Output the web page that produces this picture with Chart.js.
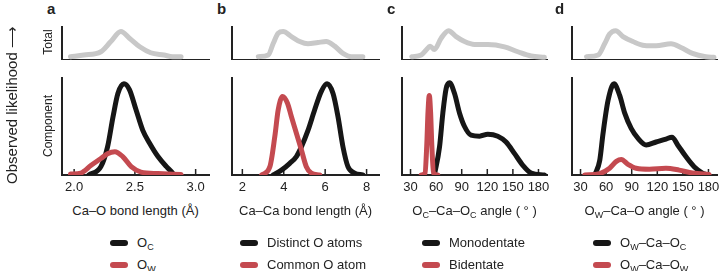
<!DOCTYPE html>
<html>
<head>
<meta charset="utf-8">
<script src="https://cdn.jsdelivr.net/npm/chart.js@4.4.1/dist/chart.umd.min.js"></script>
<style>
  body { margin: 0; width: 720px; height: 271px; position: relative; overflow: hidden; background: #fff;
         font-family: "Liberation Sans", Arial, Helvetica, sans-serif; color: #222; }
  canvas { position: absolute; }
  .abs { position: absolute; white-space: nowrap; }
  .rot { transform: translate(-50%, -50%) rotate(-90deg); }
  .panel { font-weight: bold; font-size: 15px; line-height: 16px; }
  .xtitle { font-size: 13px; line-height: 16px; text-align: center; }
  .legend { font-size: 13px; }
  .legend .item { height: 22px; line-height: 22px; }
  .swatch { display: inline-block; width: 18px; height: 6px; border-radius: 3px; margin-right: 9px; vertical-align: middle; position: relative; top: -1px; }
  .s { font-size: 9px; position: relative; top: 3px; }
</style>
</head>
<body>
<script>
// colours
const BLACK = '#161616';
const RED = '#c44a50';
const GREY = '#c8c8c8';

// ---- panel a : Ca–O bond length ----
const aTicks = [2.0, 2.5, 3.0];
const aTickLabels = ['2.0', '2.5', '3.0'];
const aTotal = [[1.97,0.10],[2.08,0.15],[2.22,0.25],[2.30,0.55],[2.385,0.86],[2.455,0.66],[2.54,0.40],[2.63,0.22],[2.74,0.15],[2.81,0.10],[2.88,0.10]];
const aOc = [[2.12,0],[2.22,0.086],[2.275,0.29],[2.32,0.60],[2.36,0.84],[2.41,0.94],[2.455,0.88],[2.51,0.67],[2.565,0.46],[2.62,0.33],[2.69,0.19],[2.76,0.086],[2.81,0.02],[2.82,0]];
const aOw = [[1.97,0.01],[2.055,0.02],[2.14,0.10],[2.22,0.17],[2.275,0.22],[2.335,0.24],[2.40,0.19],[2.47,0.086],[2.55,0.03],[2.69,0.015],[2.88,0.005]];

// ---- panel b : Ca–Ca bond length ----
const bTicks = [2, 4, 6, 8];
const bTickLabels = ['2', '4', '6', '8'];
const bTotal = [[2.77,0.10],[3.25,0.15],[3.49,0.50],[3.73,0.81],[3.97,0.86],[4.37,0.71],[4.77,0.56],[5.17,0.49],[5.65,0.53],[6.05,0.56],[6.46,0.42],[6.86,0.20],[7.26,0.10],[7.82,0.10]];
const bDistinct = [[3.49,0],[3.89,0.05],[4.29,0.12],[4.61,0.19],[4.85,0.29],[5.17,0.46],[5.49,0.67],[5.81,0.86],[6.09,0.94],[6.38,0.84],[6.62,0.60],[6.86,0.29],[7.10,0.086],[7.42,0.02],[7.82,0]];
const bCommon = [[2.93,0],[3.33,0.086],[3.57,0.40],[3.73,0.67],[3.94,0.81],[4.18,0.74],[4.37,0.60],[4.61,0.43],[4.85,0.26],[5.09,0.086],[5.33,0.02],[5.74,0]];

// ---- panel c : Oc–Ca–Oc angle ----
const cTicks = [30, 60, 90, 120, 150, 180];
const cTickLabels = ['30', '60', '90', '120', '150', '180'];
const cTotal = [[31.5,0.10],[42.5,0.15],[48.3,0.30],[53,0.42],[58,0.32],[65.9,0.66],[74.5,0.89],[83.5,0.71],[93.3,0.56],[105,0.47],[120.6,0.47],[140.2,0.40],[155.8,0.25],[171.4,0.12],[187,0.08]];
const cMono = [[58,0],[64,0.29],[67.9,0.64],[71.7,0.89],[75.7,0.95],[81.6,0.84],[87.4,0.64],[93.3,0.50],[101,0.41],[110.9,0.40],[120.6,0.42],[132.3,0.40],[142,0.34],[152,0.22],[161.7,0.10],[171.4,0.02],[187,0]];
const cBi = [[42.5,0],[47,0.02],[49,0.30],[50.5,0.65],[52,0.82],[53.5,0.65],[55,0.30],[57,0.02],[62,0]];

// ---- panel d : Ow–Ca–O angle ----
const dTicks = [30, 60, 90, 120, 150, 180];
const dTickLabels = ['30', '60', '90', '120', '150', '180'];
const dTotal = [[37,0.10],[50.6,0.15],[58.4,0.50],[64.2,0.79],[71.2,0.89],[79.8,0.71],[91.4,0.56],[105,0.44],[118.6,0.43],[136.1,0.49],[147.7,0.38],[161.3,0.20],[176.8,0.10],[186.5,0.08]];
const dOwOc = [[46.7,0],[52.5,0.15],[56.4,0.43],[62.3,0.77],[69.3,0.94],[75.9,0.82],[81.7,0.64],[89.4,0.48],[97.2,0.38],[106.9,0.31],[118.6,0.34],[130.2,0.37],[137.2,0.39],[143.9,0.31],[153.5,0.19],[163.2,0.086],[173,0.02],[178.8,0]];
const dOwOw = [[35,0],[52.5,0.015],[64.1,0.07],[72,0.14],[77.8,0.16],[85.6,0.11],[95.3,0.07],[110.8,0.06],[130.2,0.07],[145.7,0.05],[161.3,0.02],[180.7,0.005]];

const panels = [
  { tag: 'a', left: 62,  width: 147, xMin: 1.9, xMax: 3.11, ticks: aTicks, labels: aTickLabels, total: aTotal,
    comp: [[aOw, RED], [aOc, BLACK]], title: 'Ca–O bond length (Å)',
    legend: [[BLACK, 'O<span class="s">C</span>'], [RED, 'O<span class="s">W</span>']], legendX: 110 },
  { tag: 'b', left: 232, width: 147, xMin: 1.5, xMax: 8.6, ticks: bTicks, labels: bTickLabels, total: bTotal,
    comp: [[bCommon, RED], [bDistinct, BLACK]], title: 'Ca–Ca bond length (Å)',
    legend: [[BLACK, 'Distinct O atoms'], [RED, 'Common O atom']], legendX: 240 },
  { tag: 'c', left: 402, width: 145, xMin: 20, xMax: 190, ticks: cTicks, labels: cTickLabels, total: cTotal,
    comp: [[cBi, RED], [cMono, BLACK]], title: 'O<span class="s">C</span>–Ca–O<span class="s">C</span> angle ( ° )',
    legend: [[BLACK, 'Monodentate'], [RED, 'Bidentate']], legendX: 422 },
  { tag: 'd', left: 572, width: 145, xMin: 20, xMax: 190, ticks: dTicks, labels: dTickLabels, total: dTotal,
    comp: [[dOwOw, RED], [dOwOc, BLACK]], title: 'O<span class="s">W</span>–Ca–O angle ( ° )',
    legend: [[BLACK, 'O<span class="s">W</span>–Ca–O<span class="s">C</span>'], [RED, 'O<span class="s">W</span>–Ca–O<span class="s">W</span>']], legendX: 593 }
];

// small inward tick marks on the component x axis
const innerTicks = {
  id: 'innerTicks',
  beforeDatasetsDraw(chart) {
    const sx = chart.scales.x, ctx = chart.ctx, b = chart.chartArea.bottom;
    ctx.save();
    ctx.strokeStyle = '#222';
    ctx.lineWidth = 1.5;
    sx.ticks.forEach(t => {
      const p = sx.getPixelForValue(t.value);
      ctx.beginPath();
      ctx.moveTo(p, b);
      ctx.lineTo(p, b - 6);
      ctx.stroke();
    });
    ctx.restore();
  }
};

const PAD = 14;

function addDiv(html, cls, style) {
  const d = document.createElement('div');
  d.className = 'abs ' + cls;
  d.innerHTML = html;
  Object.assign(d.style, style);
  document.body.appendChild(d);
  return d;
}

function makeChart(p, plotTop, plotH, xBelow, series, withTicks) {
  const c = document.createElement('canvas');
  c.width = p.width + 2 * PAD;
  c.height = 4 + plotH + xBelow;
  c.style.left = (p.left - PAD) + 'px';
  c.style.top = (plotTop - 4) + 'px';
  document.body.appendChild(c);

  new Chart(c.getContext('2d'), {
    type: 'line',
    data: {
      datasets: series.map(([pts, col]) => ({
        data: pts.map(([x, y]) => ({ x, y })),
        borderColor: col,
        borderWidth: 5,
        pointRadius: 0,
        fill: false,
        cubicInterpolationMode: 'monotone',
        borderCapStyle: 'round',
        borderJoinStyle: 'round'
      }))
    },
    options: {
      responsive: false,
      animation: false,
      devicePixelRatio: 1,
      layout: { padding: { left: PAD, right: PAD, top: 4, bottom: 0 } },
      plugins: { legend: { display: false }, tooltip: { enabled: false } },
      scales: {
        x: {
          type: 'linear',
          min: p.xMin,
          max: p.xMax,
          grid: { display: false, drawTicks: false },
          border: { display: true, color: '#222', width: 2 },
          ticks: {
            display: withTicks,
            padding: 5,
            color: '#222',
            font: { family: '"Liberation Sans", Arial, sans-serif', size: 13 },
            callback: v => p.labels[p.ticks.indexOf(v)]
          },
          afterBuildTicks: s => { s.ticks = p.ticks.map(v => ({ value: v })); },
          afterFit: s => { s.height = xBelow; }
        },
        y: {
          min: 0,
          max: 1,
          grid: { display: false, drawTicks: false },
          border: { display: true, color: '#222', width: 2 },
          ticks: { display: false },
          afterFit: s => { s.width = 0; }
        }
      }
    },
    plugins: withTicks ? [innerTicks] : []
  });
}

panels.forEach((p, i) => {
  // panel letter
  addDiv(p.tag, 'panel', { left: [47, 217, 387, 555][i] + 'px', top: '1px' });
  // total (top) and component (bottom) plots
  makeChart(p, 27, 33, 0, [[p.total, GREY]], false);
  makeChart(p, 78, 97, 24, p.comp, true);
  // axis title
  addDiv(p.title, 'xtitle', { left: p.left + 'px', width: p.width + 'px', top: '203px' });
  // legend
  const lg = addDiv(p.legend.map(([col, txt]) =>
    `<div class="item"><span class="swatch" style="background:${col}"></span>${txt}</div>`).join(''),
    'legend', { left: p.legendX + 'px', top: '232px' });
});

addDiv('Total', 'rot', { left: '48px', top: '42px', fontSize: '12px' });
addDiv('Component', 'rot', { left: '48px', top: '126px', fontSize: '12px' });
addDiv('Observed likelihood ⟶', 'rot', { left: '12px', top: '105px', fontSize: '15px' });
</script>
</body>
</html>
